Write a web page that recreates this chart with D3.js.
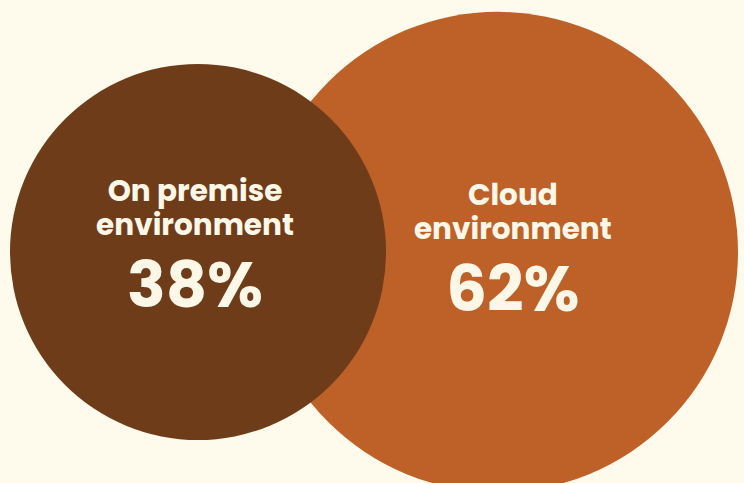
<!DOCTYPE html>
<html>
<head>
<meta charset="utf-8">
<script src="https://cdn.jsdelivr.net/npm/d3@7"></script>
<style>
  html, body { margin: 0; padding: 0; background: #fefaec; }
  svg { display: block; }
  text { font-family: "Poppins", "Open Sans", sans-serif; font-weight: 700; fill: #fdf7e8; }
</style>
</head>
<body>
<div id="chart"></div>
<script>
const categories = ["On premise environment", "Cloud environment"];
const labelLines = [["On premise", "environment"], ["Cloud", "environment"]];
const values = [38, 62];
const colors = ["#6f3c1a", "#bd6129"];

const width = 744, height = 483;

const svg = d3.select("#chart").append("svg")
    .attr("width", width)
    .attr("height", height);

svg.append("rect")
    .attr("width", width)
    .attr("height", height)
    .attr("fill", "#fefaec");

// area ~ value
const r = d3.scaleSqrt()
    .domain([0, 100])
    .range([0, 305]);

// centers sit on one line
const cy = 252;
const x = d3.scaleOrdinal()
    .domain(categories)
    .range([10 + r(values[0]), 738 - r(values[1])]);

const data = categories.map((c, i) => ({name: c, lines: labelLines[i], value: values[i], color: colors[i]}));

// big circle first so the small one sits on top
const drawOrder = data.slice().sort((a, b) => b.value - a.value);

svg.selectAll("circle.bubble")
    .data(drawOrder)
    .join("circle")
    .attr("class", "bubble")
    .attr("cx", d => x(d.name))
    .attr("cy", cy)
    .attr("r", d => r(d.value))
    .attr("fill", d => d.color);

// label offsets relative to circle center
const labelShift = {"On premise environment": -3, "Cloud environment": 15};
const labelDy = {"On premise environment": 0, "Cloud environment": 4};

const labels = svg.selectAll("g.label")
    .data(data)
    .join("g")
    .attr("class", "label")
    .attr("transform", d => `translate(${x(d.name) + labelShift[d.name]},${cy + labelDy[d.name]})`);

labels.each(function(d) {
    const g = d3.select(this);
    d.lines.forEach((line, j) => {
        g.append("text")
            .attr("text-anchor", "middle")
            .attr("y", -51 + j * 34)
            .style("font-size", "29.5px")
            .text(line);
    });
    g.append("text")
        .attr("text-anchor", "middle")
        .attr("y", 55)
        .style("font-size", "64px")
        .text(d.value + "%");
});
</script>
</body>
</html>
